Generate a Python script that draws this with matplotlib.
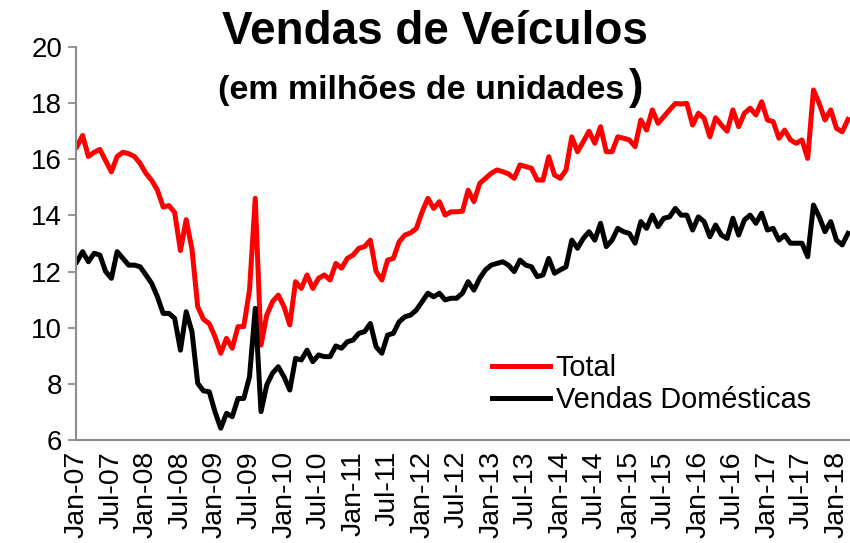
import matplotlib
matplotlib.use("Agg")
import matplotlib.pyplot as plt
import numpy as np
import pandas as pd

plt.rcParams['font.family'] = ['Liberation Sans', 'DejaVu Sans']

title = "Vendas de Veículos"
subtitle = "(em milhões de unidades"
subtitle_close = ")"
series_names = ["Total", "Vendas Domésticas"]

total = [16.45, 16.85, 16.1, 16.25, 16.35, 15.95, 15.55, 16.1, 16.25, 16.2, 16.1, 15.85,
         15.5, 15.25, 14.9, 14.3, 14.35, 14.1, 12.75, 13.85, 12.8, 10.75, 10.3, 10.15,
         9.68, 9.09, 9.62, 9.27, 10.04, 10.04, 11.34, 14.61, 9.38, 10.45, 10.93, 11.16,
         10.75, 10.10, 11.64, 11.40, 11.88, 11.40, 11.76, 11.88, 11.70, 12.29, 12.12, 12.47,
         12.59, 12.83, 12.89, 13.12, 12.0, 11.70, 12.41, 12.47, 13.06, 13.30, 13.38, 13.54,
         14.13, 14.61, 14.25, 14.49, 14.01, 14.13, 14.13, 14.15, 14.9, 14.49, 15.14, 15.32,
         15.50, 15.62, 15.56, 15.48, 15.32, 15.80, 15.74, 15.68, 15.26, 15.26, 16.09, 15.44,
         15.32, 15.62, 16.80, 16.27, 16.63, 17.0, 16.57, 17.16, 16.27, 16.27, 16.80, 16.75,
         16.69, 16.45, 17.40, 17.04, 17.76, 17.28, 17.52, 17.76, 17.99, 17.97, 17.99, 17.22,
         17.64, 17.46, 16.80, 17.48, 17.22, 17.0, 17.76, 17.16, 17.64, 17.82, 17.58, 18.05,
         17.40, 17.34, 16.75, 17.04, 16.69, 16.57, 16.69, 16.03, 18.47, 17.99, 17.40, 17.76,
         17.10, 16.98, 17.42]

domesticas = [12.35, 12.71, 12.35, 12.65, 12.59, 12.0, 11.76, 12.71, 12.47, 12.23, 12.23, 12.17,
              11.88, 11.58, 11.1, 10.51, 10.51, 10.33, 9.2, 10.57, 9.86, 8.02, 7.75, 7.72,
              7.01, 6.42, 6.95, 6.83, 7.48, 7.48, 8.25, 10.69, 7.01, 7.96, 8.38, 8.61,
              8.25, 7.78, 8.91, 8.85, 9.2, 8.79, 9.03, 8.97, 8.97, 9.35, 9.27, 9.50,
              9.56, 9.80, 9.86, 10.15, 9.32, 9.09, 9.74, 9.80, 10.21, 10.39, 10.45, 10.63,
              10.93, 11.23, 11.10, 11.23, 10.99, 11.05, 11.05, 11.23, 11.64, 11.34, 11.76, 12.06,
              12.23, 12.29, 12.35, 12.23, 12.0, 12.41, 12.23, 12.17, 11.82, 11.88, 12.47, 11.94,
              12.06, 12.17, 13.12, 12.83, 13.18, 13.42, 13.12, 13.72, 12.89, 13.12, 13.54, 13.42,
              13.36, 13.01, 13.78, 13.54, 14.01, 13.60, 13.90, 13.95, 14.25, 14.01, 14.01, 13.48,
              13.95, 13.78, 13.24, 13.66, 13.30, 13.18, 13.90, 13.30, 13.84, 14.01, 13.72, 14.08,
              13.48, 13.54, 13.12, 13.30, 13.01, 13.01, 13.01, 12.53, 14.37, 13.95, 13.42, 13.78,
              13.12, 12.95, 13.36]

months = pd.date_range("2007-01-01", periods=len(total), freq="MS")
month_labels = [m.strftime("%b-%y") for m in months]

fig = plt.figure(figsize=(8.5, 5.43), dpi=100)
ax = fig.add_axes([76/850, 1-440/543, 774/850, 393/543])

x = np.arange(len(total))
ax.plot(x, total, color="#FF0000", lw=3.6, label=series_names[0], solid_joinstyle="round")
ax.plot(x, domesticas, color="#000000", lw=3.6, label=series_names[1], solid_joinstyle="round")

ax.set_ylim(6, 20)
ax.set_yticks(np.arange(6, 21, 2))
ax.set_xlim(-0.15, 134.35)
tick_idx = [i for i in range(len(months)) if months[i].month in (1, 7)]
ax.set_xticks(tick_idx)
ax.set_xticklabels([month_labels[i] for i in tick_idx], rotation=90, fontsize=20.5)
ax.tick_params(axis="x", length=0, pad=8)
ax.tick_params(axis="y", length=6, width=1.3, color="#8c8c8c", labelsize=20, pad=4)

for s in ["top", "right"]:
    ax.spines[s].set_visible(False)
for s in ["left", "bottom"]:
    ax.spines[s].set_color("#8c8c8c")
    ax.spines[s].set_linewidth(1.5)

fig.text(435/850, 1-32/543, title, ha="center", va="center", fontsize=33, fontweight="bold")
fig.text(218/850, 1-90/543, subtitle, ha="left", va="center", fontsize=24.5, fontweight="bold")
fig.text(629/850, 1-88/543, subtitle_close, ha="left", va="center", fontsize=31, fontweight="bold")

leg = fig.legend(loc="center left", bbox_to_anchor=(492/850, 1-384/543), frameon=False,
                 fontsize=20.8, handlelength=2.0, handletextpad=0.2, labelspacing=0.15,
                 borderpad=0, borderaxespad=0)

fig.savefig("out.png", dpi=100)
